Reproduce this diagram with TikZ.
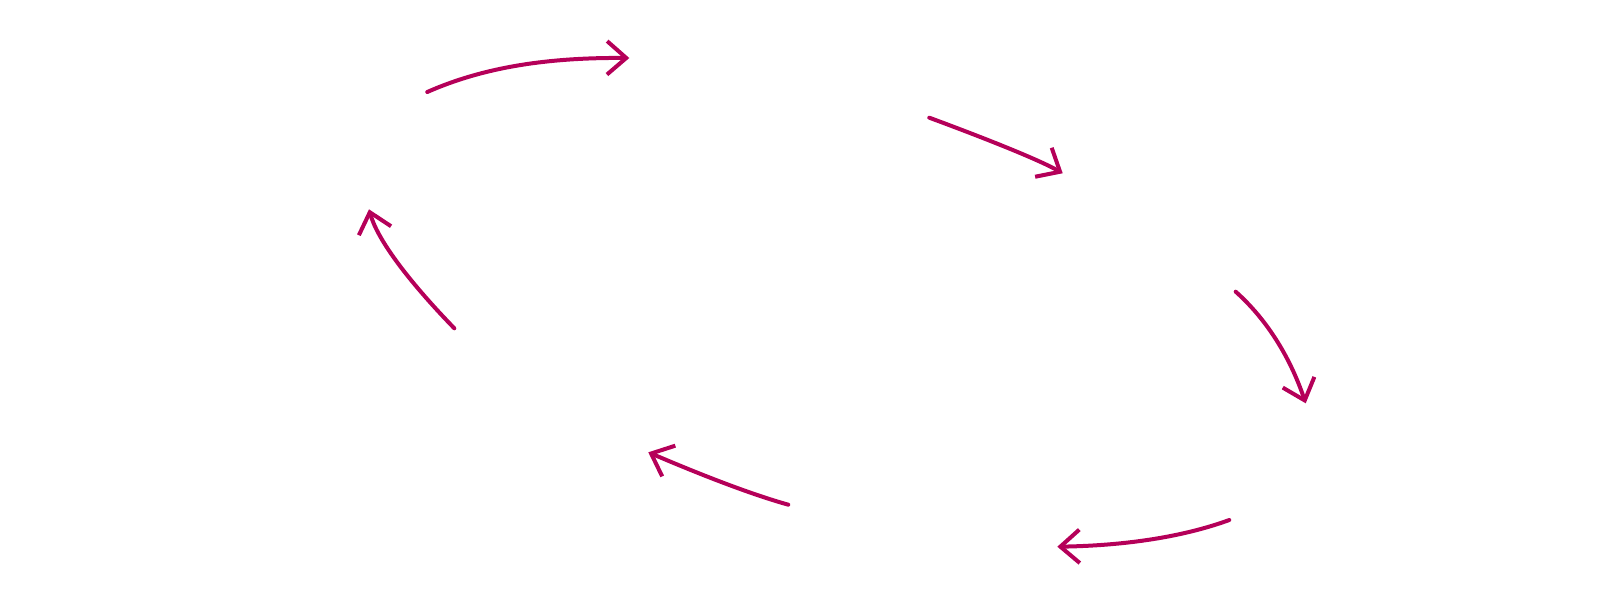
\documentclass[tikz,border=0pt]{standalone}
\usetikzlibrary{arrows.meta}
\definecolor{arrowred}{RGB}{181,0,89}
\tikzset{
  cyclearrow/.style={draw=arrowred, line width=2pt, line cap=round,
    -{Straight Barb[length=9.6pt,width=16.7pt,line cap=butt]}}
}
\begin{document}
\begin{tikzpicture}[x=0.5pt,y=-0.5pt]
\useasboundingbox (0,0) rectangle (1600,604);
% end points
\coordinate (a1s) at (427.3,92);   \coordinate (a1e) at (629.3,58);
\coordinate (a2s) at (929.3,117.7);\coordinate (a2e) at (1062.7,173.3);
\coordinate (a3s) at (1235.7,291.7);\coordinate (a3e) at (1305.7,403.3);
\coordinate (a4s) at (1229.3,520); \coordinate (a4e) at (1057.3,546.7);
\coordinate (a5s) at (788.3,504.7);\coordinate (a5e) at (648.3,452.3);
\coordinate (a6s) at (454.3,328.3);\coordinate (a6e) at (369,209.3);
% arrows
\draw[cyclearrow] (a1s) .. controls (488.1,65.1) and (555,57.5) .. (a1e);
\draw[cyclearrow] (a2s) .. controls (997.4,142.9) and (1041.9,161.4) .. (a2e);
\draw[cyclearrow] (a3s) .. controls (1266.5,319.2) and (1289.8,356.4) .. (a3e);
\draw[cyclearrow] (a4s) .. controls (1183.5,536.7) and (1126.2,545.6) .. (a4e);
\draw[cyclearrow] (a5s) .. controls (754.6,495.3) and (708,477.8) .. (a5e);
\draw[cyclearrow] (a6s) .. controls (405.6,278) and (377.1,238.4) .. (a6e);
\end{tikzpicture}
\end{document}
